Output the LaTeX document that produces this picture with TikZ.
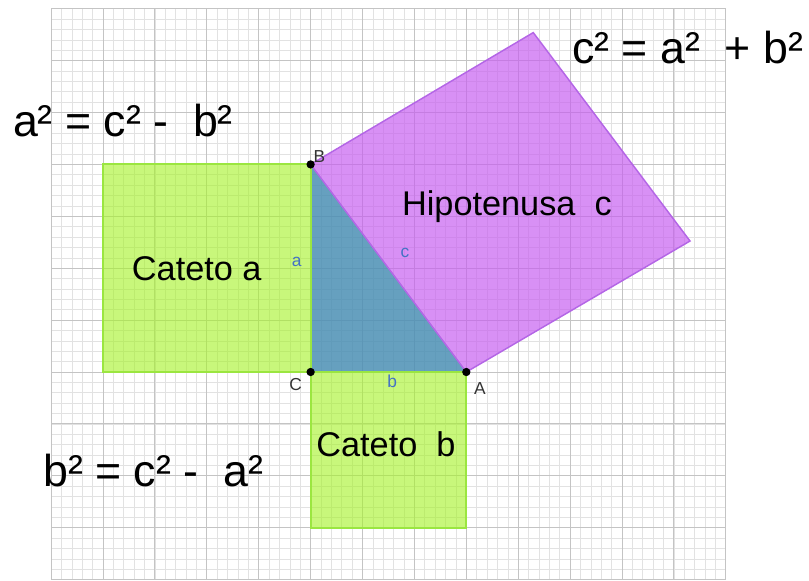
\documentclass[tikz,border=0pt]{standalone}
\usepackage{fontspec}
\setmainfont{Liberation Sans}
\usetikzlibrary{positioning}
\definecolor{gridmaj}{HTML}{C4C4C4}
\definecolor{gridmin}{HTML}{E2E2E2}
\definecolor{legfill}{HTML}{A6F22A}
\definecolor{legline}{HTML}{9BE640}
\definecolor{hypfill}{HTML}{C65CF0}
\definecolor{hypline}{HTML}{B466E6}
\definecolor{trifill}{HTML}{4B8FB4}
\definecolor{lblblue}{HTML}{4472C4}
\tikzset{
  dot/.style={circle,fill=black,inner sep=0pt,minimum size=1.6mm},
  legsq/.style={fill=legfill,fill opacity=.62,draw=legline,line width=1.1pt},
  hypsq/.style={fill=hypfill,fill opacity=.68,draw=hypline,line width=.8pt},
  tri/.style={fill=trifill,fill opacity=.85},
  eqn/.style={anchor=base west,inner sep=0pt,font=\fontsize{24.5}{28}\selectfont},
  tag/.style={anchor=base west,inner sep=0pt,font=\fontsize{18.8}{22}\selectfont},
  vlbl/.style={inner sep=0pt,font=\fontsize{9.5}{11}\selectfont,text=black!80},
  slbl/.style={inner sep=0pt,font=\fontsize{9.5}{11}\selectfont,text=lblblue},
}
\begin{document}
\begin{tikzpicture}
  \useasboundingbox (-5.985,-4.008) rectangle (9.603,7.168);
  % squared paper
  \draw[gridmin,line width=.35pt,step=.2] (-5,-4) grid (8,7);
  \draw[gridmaj,line width=.55pt,step=1] (-5,-4) grid (8,7);
  % triangle corners and square corners
  \coordinate (C) at (0,0);
  \coordinate (A) at (3,0);
  \coordinate (B) at (0,4);
  \coordinate (P) at (7.31,2.524);
  \coordinate (Q) at (4.29,6.54);
  \fill[tri] (C) -- (A) -- (B) -- cycle;
  \draw[legsq] (-4,0) rectangle (B);
  \draw[legsq] (C) rectangle (3,-3);
  \draw[hypsq] (B) -- (A) -- (P) -- (Q) -- cycle;
  \node[dot] (dB) at (B){};
  \node[dot] (dC) at (C){};
  \node[dot] (dA) at (A){};
  \node[vlbl] (lB) at (.169,4.16){B};
  \node[vlbl] (lC) at (-.287,-.25){C};
  \node[vlbl] (lA) at (3.264,-.328){A};
  \node[slbl] (sa) at (-.268,2.125){a};
  \node[slbl] (sb) at (1.574,-.187){b};
  \node[slbl] (sc) at (1.819,2.293){c};
  % names of the squares
  \node[tag] (ta) at (-3.45,1.77){Cateto a};
  \node[tag] (tb) at (.104,-1.63){Cateto\ \ b};
  \node[tag] (tc) at (1.755,3.025){Hipotenusa\ \ c};
  % formulas
  \node[eqn] (ec) at (5.03,5.95){c² = a²\ \ + b²};
  \node[eqn] (ea) at (-5.74,4.53){a² = c² -\ \ b²};
  \node[eqn] (eb) at (-5.16,-2.21){b² = c² -\ \ a²};
\end{tikzpicture}
\end{document}
